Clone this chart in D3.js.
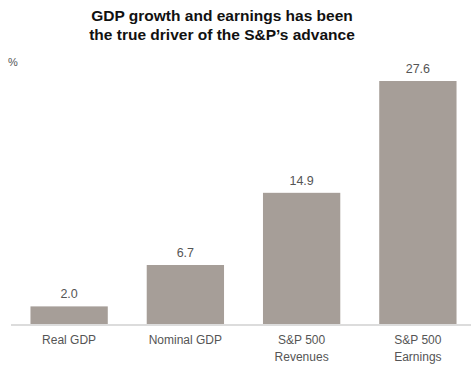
<!DOCTYPE html>
<html>
<head>
<meta charset="utf-8">
<script src="https://cdn.jsdelivr.net/npm/d3@7"></script>
<style>
  body { margin: 0; background: #fff; }
  svg text { font-family: "Liberation Sans", Arial, sans-serif; }
</style>
</head>
<body>
<svg id="chart"></svg>
<script>
const categories = [["Real GDP"], ["Nominal GDP"], ["S&P 500", "Revenues"], ["S&P 500", "Earnings"]];
const values = [2.0, 6.7, 14.9, 27.6];
const titleLines = ["GDP growth and earnings has been", "the true driver of the S&P\u2019s advance"];
const unitLabel = "%";

const width = 471, height = 365;
const svg = d3.select("#chart").attr("width", width).attr("height", height);

const keys = categories.map(c => c.join(" "));
const data = keys.map((k, i) => ({ key: k, lines: categories[i], value: values[i] }));

const x = d3.scaleBand().domain(keys).range([11, 476]).paddingInner(0.335).paddingOuter(0.1675);
const y = d3.scaleLinear().domain([0, 27.6]).range([324, 81]);

// title
svg.append("text")
  .attr("x", 222).attr("y", 21)
  .attr("text-anchor", "middle")
  .style("font-size", "15.5px").style("font-weight", "bold").attr("fill", "#111")
  .selectAll("tspan").data(titleLines).enter().append("tspan")
  .attr("x", 222).attr("dy", (d, i) => i ? 19 : 0)
  .text(d => d);

svg.append("text").attr("x", 8).attr("y", 66)
  .style("font-size", "11px").attr("fill", "#555").text(unitLabel);

// bars
svg.selectAll(".bar").data(data).enter().append("rect")
  .attr("class", "bar")
  .attr("x", d => x(d.key))
  .attr("width", x.bandwidth())
  .attr("y", d => y(d.value))
  .attr("height", d => y(0) - y(d.value))
  .attr("fill", "#a69e98");

// baseline
svg.append("line")
  .attr("x1", 11).attr("x2", width)
  .attr("y1", y(0) + 1).attr("y2", y(0) + 1)
  .attr("stroke", "#dcdcdc").attr("stroke-width", 2);

// value labels
svg.selectAll(".val").data(data).enter().append("text")
  .attr("class", "val")
  .attr("x", d => x(d.key) + x.bandwidth() / 2)
  .attr("y", d => y(d.value) - 8)
  .attr("text-anchor", "middle")
  .style("font-size", "12.5px").attr("fill", "#555")
  .text(d => d.value.toFixed(1));

// category labels
const xl = svg.selectAll(".xl").data(data).enter().append("text")
  .attr("class", "xl")
  .attr("text-anchor", "middle")
  .style("font-size", "12px").attr("fill", "#555");
xl.selectAll("tspan").data(d => d.lines.map(l => ({ l, cx: x(d.key) + x.bandwidth() / 2 })))
  .enter().append("tspan")
  .attr("x", d => d.cx)
  .attr("y", (d, i) => 344 + i * 17)
  .text(d => d.l);
</script>
</body>
</html>
